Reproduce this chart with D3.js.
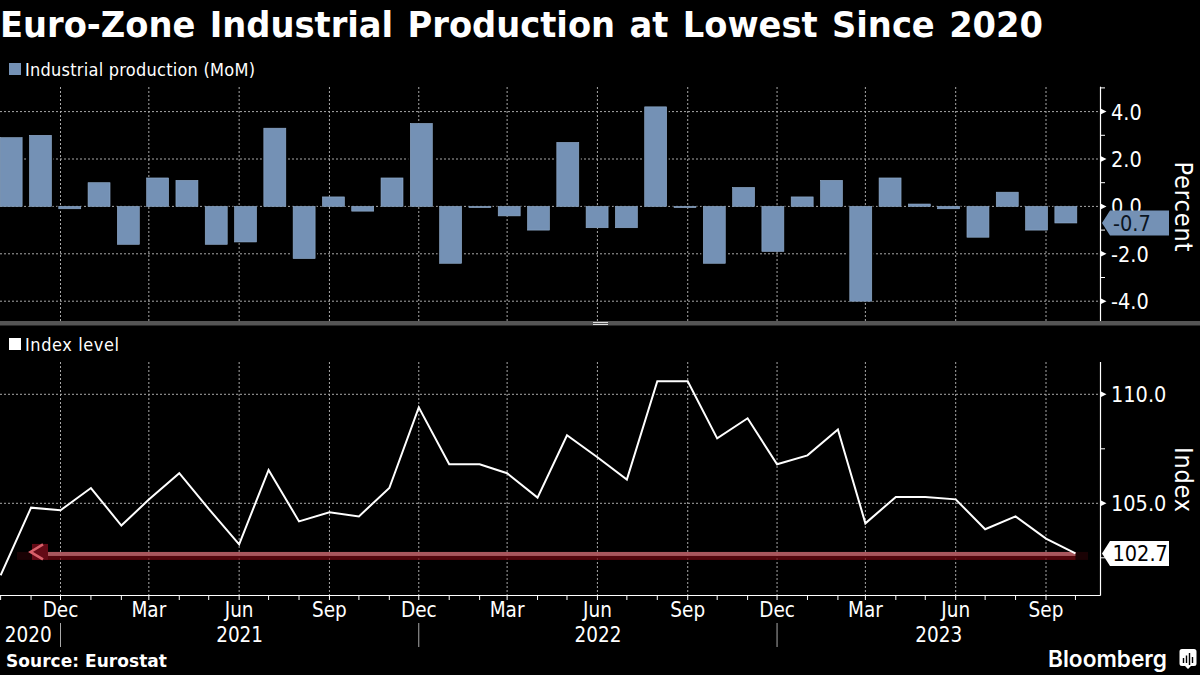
<!DOCTYPE html>
<html>
<head>
<meta charset="utf-8">
<script src="https://cdn.jsdelivr.net/npm/d3@7"></script>
<style>
html, body { margin: 0; padding: 0; background: #000; overflow: hidden; }
text { fill: #fff; font-family: "DejaVu Sans Condensed", "DejaVu Sans", sans-serif; font-stretch: condensed; }
</style>
</head>
<body>
<svg id="chart" width="1200" height="675"></svg>
<script>
// values, one per month from Oct 2020 to Oct 2023
const months = d3.timeMonths(new Date(2020, 9, 1), new Date(2023, 10, 1));
const production = [2.9, 3.0, -0.1, 1.0, -1.6, 1.2, 1.1, -1.6, -1.5, 3.3, -2.2, 0.4, -0.2,
    1.2, 3.5, -2.4, -0.05, -0.4, -1.0, 2.7, -0.9, -0.9, 4.2, -0.05, -2.4, 0.8, -1.9, 0.4,
    1.1, -4.0, 1.2, 0.1, -0.1, -1.3, 0.6, -1.0, -0.7];
const indexLevel = [101.7, 104.8, 104.68, 105.7, 103.98, 105.17, 106.38, 104.74, 103.12, 106.53,
    104.17, 104.59, 104.4, 105.7, 109.4, 106.79, 106.79, 106.38, 105.26, 108.12, 107.11, 106.09,
    110.6, 110.6, 107.98, 108.9, 106.79, 107.2, 108.39, 104.08, 105.29, 105.29, 105.18, 103.81,
    104.4, 103.38, 102.7];
const productionTicks = [4, 2, 0, -2, -4];
const productionMinorTicks = [5, 3, 1, -1, -3];
const indexTicks = [110, 105];
const indexMinorTicks = [107.5, 102.5];
const yearNames = ["2020", "2021", "2022", "2023"];
const yearBreaks = [new Date(2020, 11, 1), new Date(2021, 11, 1), new Date(2022, 11, 1)];
const quarterMonths = [2, 5, 8, 11];

const barColor = "#7491b5";
const gridColor = "#a8a8a8";
const svg = d3.select("#chart");
const axisX = 1100.5;

// month axis and bars do not share a step in the original, so each has its own scale
const x = d3.scaleTime()
    .domain([new Date(2020, 11, 1), new Date(2023, 8, 1)])
    .range([60.5, 1046]);
const xBar = d3.scaleBand()
    .domain(months.map(d => +d))
    .range([-3.5, 1080.5])
    .paddingInner(0.25)
    .paddingOuter(0.125);
const yTop = d3.scaleLinear().domain([4, -4]).range([111.6, 301.2]);
const yBottom = d3.scaleLinear().domain([110, 105]).range([394.3, 503.3]);

const quarters = months.filter(d => quarterMonths.includes(d.getMonth()));
const fmt = d => d3.format(".1f")(d).replace("−", "-");

// title
svg.append("text")
    .attr("x", 0).attr("y", 37)
    .attr("font-size", 35)
    .attr("font-weight", "bold")
    .attr("textLength", 1043)
    .attr("lengthAdjust", "spacingAndGlyphs")
    .style("word-spacing", "2.5px")
    .text("Euro-Zone Industrial Production at Lowest Since 2020");

// legends
svg.append("rect").attr("x", 9).attr("y", 63).attr("width", 12).attr("height", 12).attr("fill", barColor);
svg.append("text").attr("x", 25).attr("y", 76).attr("font-size", 18).attr("fill", "#eee")
    .attr("textLength", 230)
    .text("Industrial production (MoM)");
svg.append("rect").attr("x", 9).attr("y", 338).attr("width", 12).attr("height", 12).attr("fill", "#fff");
svg.append("text").attr("x", 25).attr("y", 351).attr("font-size", 18).attr("fill", "#eee")
    .attr("textLength", 94)
    .text("Index level");

// gridlines
function grid(g, ticks, yScale, top, bottom) {
    g.selectAll("line.v").data(quarters).enter().append("line")
        .attr("class", "v")
        .attr("x1", d => x(d)).attr("x2", d => x(d))
        .attr("y1", top).attr("y2", bottom)
        .attr("stroke", gridColor).attr("stroke-width", 1).attr("stroke-dasharray", "2 2");
    g.selectAll("line.h").data(ticks).enter().append("line")
        .attr("class", "h")
        .attr("x1", 0).attr("x2", axisX)
        .attr("y1", d => yScale(d)).attr("y2", d => yScale(d))
        .attr("stroke", gridColor).attr("stroke-width", 1).attr("stroke-dasharray", "2 2");
}
grid(svg.append("g"), productionTicks, yTop, 87, 321);
grid(svg.append("g"), indexTicks, yBottom, 362, 595);

// black halo around the bars, it cuts the gridlines like the original does
svg.append("g").selectAll("rect")
    .data(production)
    .enter()
    .append("rect")
    .attr("x", (d, i) => xBar(+months[i]) - 2)
    .attr("width", xBar.bandwidth() + 4)
    .attr("y", d => Math.min(yTop(d), yTop(0)))
    .attr("height", d => Math.abs(yTop(d) - yTop(0)))
    .attr("fill", "#000");

// bars
svg.append("g").selectAll("rect")
    .data(production)
    .enter()
    .append("rect")
    .attr("x", (d, i) => xBar(+months[i]))
    .attr("width", xBar.bandwidth())
    .attr("y", d => Math.min(yTop(d), yTop(0)))
    .attr("height", d => Math.abs(yTop(d) - yTop(0)))
    .attr("fill", barColor)
    .attr("stroke", "#94b0d0")
    .attr("stroke-width", 0.6);

// divider between the panels
svg.append("rect").attr("x", 0).attr("y", 321).attr("width", 1200).attr("height", 4.5).attr("fill", "#555");
svg.append("line").attr("x1", 593).attr("x2", 608).attr("y1", 322.5).attr("y2", 322.5).attr("stroke", "#ddd");
svg.append("line").attr("x1", 593).attr("x2", 608).attr("y1", 324.5).attr("y2", 324.5).attr("stroke", "#ddd");

// right axes
function rightAxis(ticks, minor, yScale, top, bottom) {
    svg.append("line").attr("x1", axisX).attr("x2", axisX).attr("y1", top).attr("y2", bottom)
        .attr("stroke", "#fff").attr("stroke-width", 1.2);
    svg.append("g").selectAll("line").data(minor).enter().append("line")
        .attr("x1", axisX).attr("x2", axisX + 4.5)
        .attr("y1", d => yScale(d)).attr("y2", d => yScale(d))
        .attr("stroke", "#fff");
    svg.append("g").selectAll("path").data(ticks).enter().append("path")
        .attr("d", d => `M${axisX},${yScale(d) - 3}L${axisX + 6},${yScale(d)}L${axisX},${yScale(d) + 3}Z`)
        .attr("fill", "#fff");
    svg.append("g").selectAll("text").data(ticks).enter().append("text")
        .attr("x", 1111).attr("y", d => yScale(d) + 8)
        .attr("font-size", 21.5)
        .text(d => fmt(d));
}
rightAxis(productionTicks, productionMinorTicks, yTop, 86.7, 321);
rightAxis(indexTicks, indexMinorTicks, yBottom, 362, 595.5);

svg.append("text").attr("transform", "translate(1175,206.5) rotate(90)")
    .attr("text-anchor", "middle").attr("font-size", 25).attr("textLength", 90).text("Percent");
svg.append("text").attr("transform", "translate(1175,479.5) rotate(90)")
    .attr("text-anchor", "middle").attr("font-size", 25).attr("textLength", 65).text("Index");

// last value tag, upper panel
const lastProd = production[production.length - 1];
svg.append("path")
    .attr("d", `M1102,${yTop(lastProd)}l8,-12.5h59v25h-59Z`)
    .attr("fill", barColor);
svg.append("text").attr("x", 1113).attr("y", yTop(lastProd) + 8)
    .attr("font-size", 21.5).style("fill", "#0b1522")
    .text(fmt(lastProd));

// red arrow from last value back to the first time the level was that low
const lastIndex = indexLevel[indexLevel.length - 1];
const lastDate = months[months.length - 1];
const bandY = yBottom(lastIndex) - 1.5;
svg.append("rect").attr("x", 17).attr("width", 1071).attr("y", bandY).attr("height", 8)
    .attr("fill", "#3a0408").attr("opacity", 0.45);
svg.append("rect").attr("x", 48).attr("width", x(lastDate) - 48).attr("y", bandY).attr("height", 8)
    .attr("fill", "#8a0a14").attr("opacity", 0.5);
svg.append("rect").attr("x", 48).attr("width", x(lastDate) - 48).attr("y", bandY).attr("height", 4)
    .attr("fill", "#b8666c").attr("opacity", 0.85);
svg.append("rect").attr("x", 32).attr("width", 16).attr("y", bandY - 8).attr("height", 16).attr("fill", "#640a16");
svg.append("path")
    .attr("d", `M43,${bandY - 7.5}L30.5,${bandY}L43,${bandY + 7.5}`)
    .attr("fill", "none").attr("stroke", "#d8606a").attr("stroke-width", 2.5);

// index line
const line = d3.line()
    .x((d, i) => x(months[i]))
    .y(d => yBottom(d));
svg.append("path")
    .datum(indexLevel)
    .attr("d", line)
    .attr("fill", "none")
    .attr("stroke", "#fff")
    .attr("stroke-width", 2);

// last value tag, lower panel
svg.append("path")
    .attr("d", `M1102,${yBottom(lastIndex)}l8,-12.5h59v25h-59Z`)
    .attr("fill", "#fff");
svg.append("text").attr("x", 1112.5).attr("y", yBottom(lastIndex) + 8)
    .attr("font-size", 21.5).style("fill", "#000")
    .text(lastIndex.toFixed(1));

// month axis
svg.append("line").attr("x1", 0).attr("x2", axisX).attr("y1", 595.5).attr("y2", 595.5)
    .attr("stroke", "#fff").attr("stroke-width", 1);
svg.append("g").selectAll("line").data(months).enter().append("line")
    .attr("x1", d => x(d)).attr("x2", d => x(d))
    .attr("y1", 595.5).attr("y2", 600)
    .attr("stroke", "#fff");
svg.append("g").selectAll("text").data(quarters).enter().append("text")
    .attr("x", d => x(d)).attr("y", 617)
    .attr("text-anchor", "middle")
    .attr("font-size", 20.5)
    .text(d => d3.timeFormat("%b")(d));

// year labels sit in the middle of the span between the year breaks
const yearEdges = [-4].concat(yearBreaks.map(d => x(d)), [axisX]);
svg.append("g").selectAll("text").data(yearNames).enter().append("text")
    .attr("x", (d, i) => (yearEdges[i] + yearEdges[i + 1]) / 2)
    .attr("y", 642)
    .attr("text-anchor", "middle")
    .attr("font-size", 20.5)
    .text(d => d);
svg.append("g").selectAll("line").data(yearBreaks).enter().append("line")
    .attr("x1", d => x(d)).attr("x2", d => x(d))
    .attr("y1", 623).attr("y2", 647)
    .attr("stroke", "#aaa");

// footer
svg.append("text").attr("x", 6).attr("y", 667)
    .attr("font-size", 17).attr("font-weight", "bold")
    .attr("textLength", 161)
    .style("font-family", "'DejaVu Sans'")
    .style("font-stretch", "normal")
    .text("Source:  Eurostat");
svg.append("text").attr("x", 1048).attr("y", 667)
    .attr("font-size", 23).attr("font-weight", 600)
    .attr("textLength", 119)
    .attr("lengthAdjust", "spacingAndGlyphs")
    .style("font-family", "Inter")
    .style("font-stretch", "normal")
    .text("Bloomberg");

// logo, a rounded tile with a tail and three bars cut out
svg.append("path")
    .attr("d", "M1182,649h12a2.5,2.5 0 0 1 2.5,2.5v12a2.5,2.5 0 0 1 -2.5,2.5h-3l-3,3l-3,-3h-3a2.5,2.5 0 0 1 -2.5,-2.5v-12a2.5,2.5 0 0 1 2.5,-2.5Z")
    .attr("fill", "#fff");
svg.append("path")
    .attr("d", "M1183.5,658v5M1186.5,655.5v7.5M1189.5,653v12M1192.5,657v6")
    .attr("stroke", "#000").attr("stroke-width", 1.4);
</script>
</body>
</html>
